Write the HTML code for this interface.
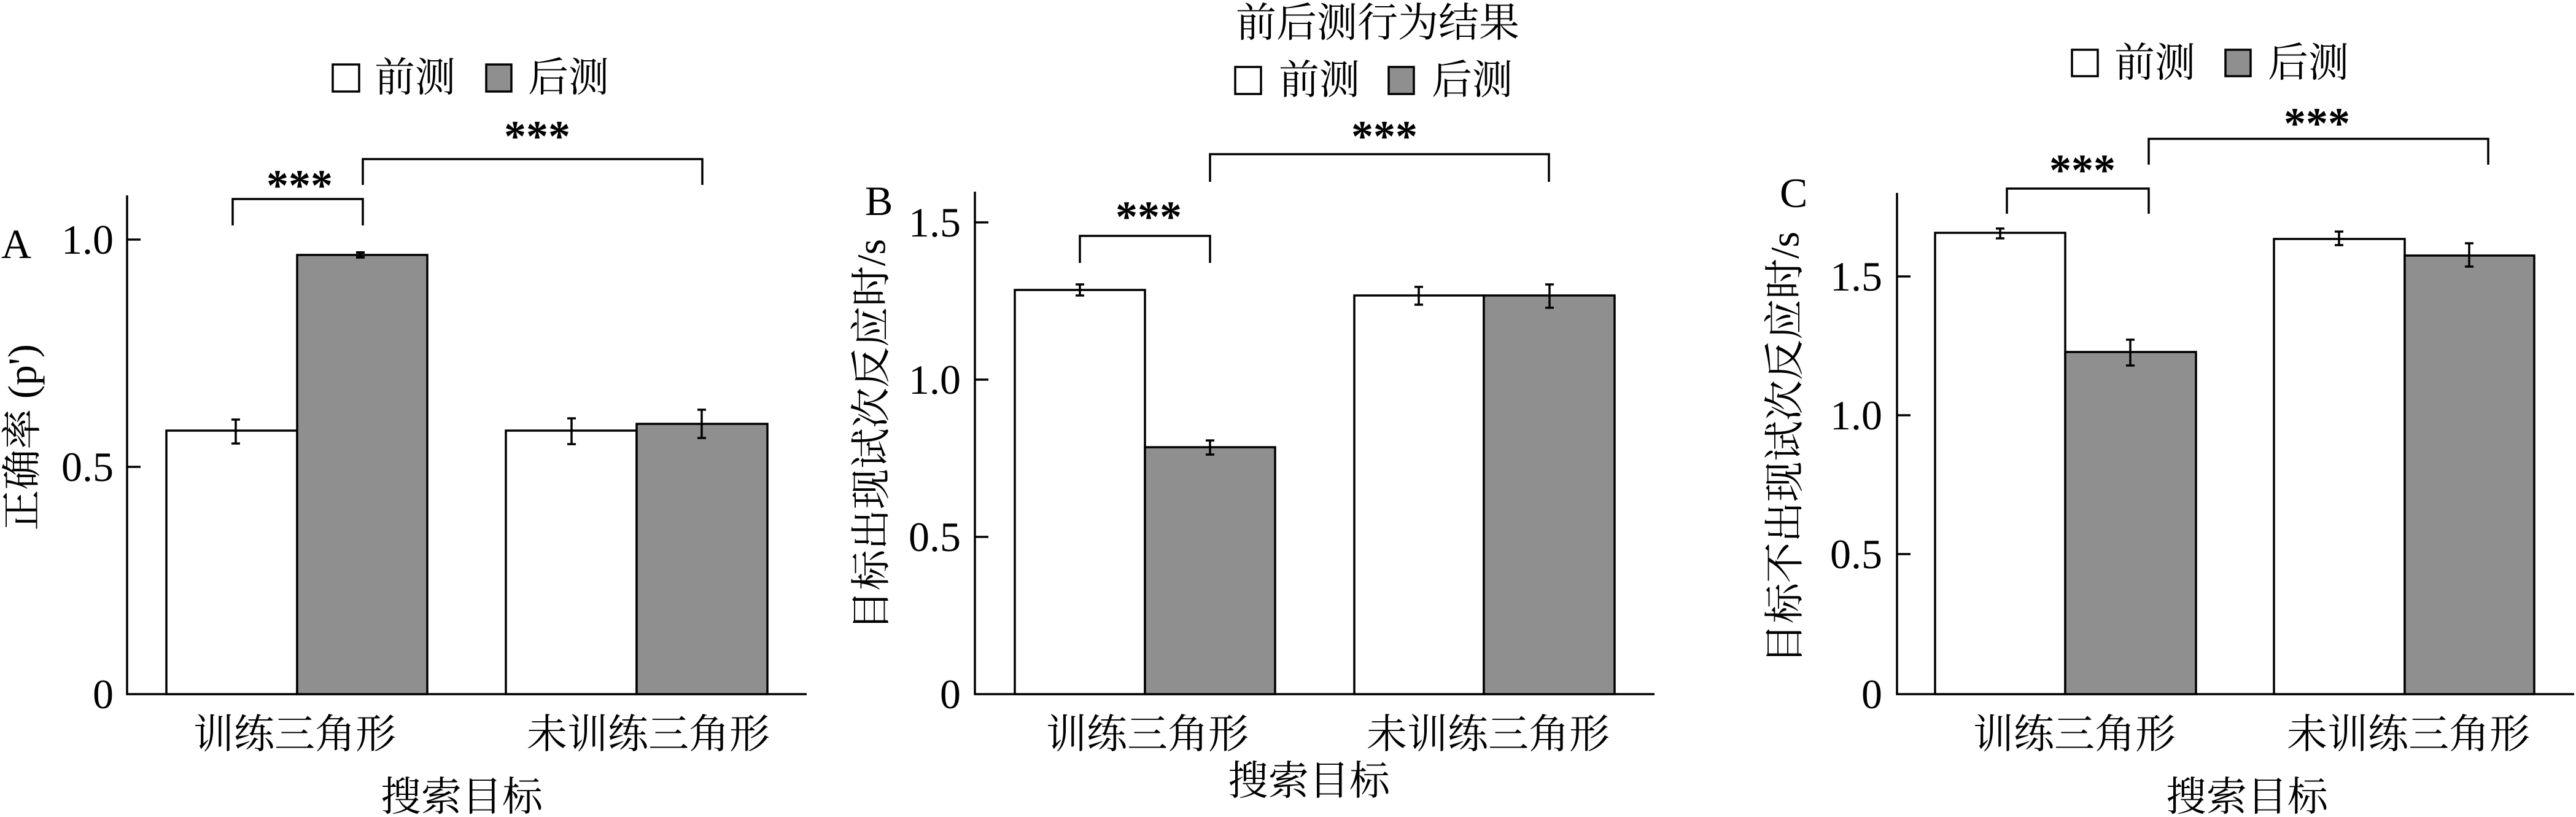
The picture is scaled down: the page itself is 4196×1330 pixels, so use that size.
<!DOCTYPE html>
<html><head><meta charset="utf-8"><style>
html,body{margin:0;padding:0;background:#fff;}
svg{display:block;}
text{font-family:"Liberation Serif","Noto Serif CJK SC",serif;fill:#000;}
</style></head><body>
<svg width="4196" height="1330" viewBox="0 0 4196 1330" xmlns="http://www.w3.org/2000/svg">
<g stroke="#000" stroke-width="3.5" fill="none">
<!-- Panel A -->
<polyline points="207,318 207,1130 1314,1130"/>
<line x1="207" y1="760" x2="229" y2="760"/><line x1="207" y1="390" x2="229" y2="390"/>
<rect x="271" y="701" width="213" height="429" fill="#fff"/>
<rect x="484" y="415" width="212" height="715" fill="#8f8f8f"/>
<rect x="824" y="701" width="213" height="429" fill="#fff"/>
<rect x="1037" y="690" width="213" height="440" fill="#8f8f8f"/>
<path d="M377,683h14M384,683v39M377,722h14"/>
<path d="M580,411h14M587,411v8M580,419h14" stroke-width="4"/>
<path d="M924,681h14M931,681v42M924,723h14"/>
<path d="M1136,667h14M1143,667v46M1136,713h14"/>
<path d="M379,367V324H591V367"/>
<path d="M591,301V259H1144V301"/>
<rect x="542" y="105" width="43" height="44" fill="#fff"/>
<rect x="792" y="105" width="41" height="44" fill="#8f8f8f"/>
<!-- Panel B -->
<polyline points="1588,312 1588,1130 2695,1130"/>
<line x1="1588" y1="874" x2="1610" y2="874"/><line x1="1588" y1="618" x2="1610" y2="618"/><line x1="1588" y1="362" x2="1610" y2="362"/>
<rect x="1653" y="472" width="212" height="658" fill="#fff"/>
<rect x="1865" y="728" width="212" height="402" fill="#8f8f8f"/>
<rect x="2206" y="481" width="211" height="649" fill="#fff"/>
<rect x="2417" y="481" width="213" height="649" fill="#8f8f8f"/>
<path d="M1752,463h14M1759,463v18M1752,481h14"/>
<path d="M1964,717h14M1971,717v23M1964,740h14"/>
<path d="M2304,467h14M2311,467v29M2304,496h14"/>
<path d="M2517,463h14M2524,463v38M2517,501h14"/>
<path d="M1759,428V384H1971V428"/>
<path d="M1971,296V251H2523V296"/>
<rect x="2012" y="109" width="42" height="44" fill="#fff"/>
<rect x="2262" y="109" width="41" height="44" fill="#8f8f8f"/>
<!-- Panel C -->
<polyline points="3090,314 3090,1130 4193,1130"/>
<line x1="3090" y1="902" x2="3112" y2="902"/><line x1="3090" y1="676" x2="3112" y2="676"/><line x1="3090" y1="450" x2="3112" y2="450"/>
<rect x="3152" y="379" width="212" height="751" fill="#fff"/>
<rect x="3364" y="573" width="213" height="557" fill="#8f8f8f"/>
<rect x="3704" y="389" width="213" height="741" fill="#fff"/>
<rect x="3917" y="416" width="211" height="714" fill="#8f8f8f"/>
<path d="M3251,372h14M3258,372v16M3251,388h14"/>
<path d="M3463,553h14M3470,553v42M3463,595h14"/>
<path d="M3803,377h14M3810,377v22M3803,399h14"/>
<path d="M4015,396h14M4022,396v38M4015,434h14"/>
<path d="M3269,348V307H3500V348"/>
<path d="M3500,268V226H4053V268"/>
<rect x="3375" y="81" width="42" height="43" fill="#fff"/>
<rect x="3625" y="81" width="41" height="43" fill="#8f8f8f"/>
</g>
<g font-size="64">
<g text-anchor="end" dominant-baseline="central" font-size="68">
<text x="185" y="390">1.0</text><text x="185" y="760">0.5</text><text x="185" y="1130">0</text>
<text x="1565" y="362">1.5</text><text x="1565" y="618">1.0</text><text x="1565" y="874">0.5</text><text x="1565" y="1130">0</text>
<text x="3066" y="450">1.5</text><text x="3066" y="676">1.0</text><text x="3066" y="902">0.5</text><text x="3066" y="1130">0</text>
</g>
<g dominant-baseline="central">
<text x="2" y="397" font-size="68">A</text>
<text x="1409" y="327" font-size="68">B</text>
<text x="2899" y="314" font-size="68">C</text>
<text x="610" y="127" font-size="66">前测</text><text x="860" y="127" font-size="66">后测</text>
<text x="2083" y="131" font-size="66">前测</text><text x="2332" y="131" font-size="66">后测</text>
<text x="3444" y="103" font-size="66">前测</text><text x="3694" y="103" font-size="66">后测</text>
</g>
<g text-anchor="middle" dominant-baseline="central">
<g font-size="72" font-weight="bold">
<text x="488" y="302">***</text>
<text x="875" y="222">***</text>
<text x="1871" y="353">***</text>
<text x="2255" y="222">***</text>
<text x="3392" y="277">***</text>
<text x="3774" y="201">***</text>
</g>
<text x="2244" y="38" font-size="66">前后测行为结果</text>
<g font-size="66">
<text x="480" y="1196">训练三角形</text><text x="1056" y="1196">未训练三角形</text>
<text x="752" y="1298">搜索目标</text>
<text x="1869" y="1196">训练三角形</text><text x="2424" y="1196">未训练三角形</text>
<text x="2132" y="1272">搜索目标</text>
<text x="3379" y="1196">训练三角形</text><text x="3923" y="1196">未训练三角形</text>
<text x="3660" y="1298">搜索目标</text>
<text transform="translate(37,712) rotate(-90)">正确率 (p')</text>
<text transform="translate(1420,708) rotate(-90)">目标出现试次反应时/s</text>
<text transform="translate(2908,729) rotate(-90)">目标不出现试次反应时/s</text>
</g>
</g>
</g>
</svg>
</body></html>
